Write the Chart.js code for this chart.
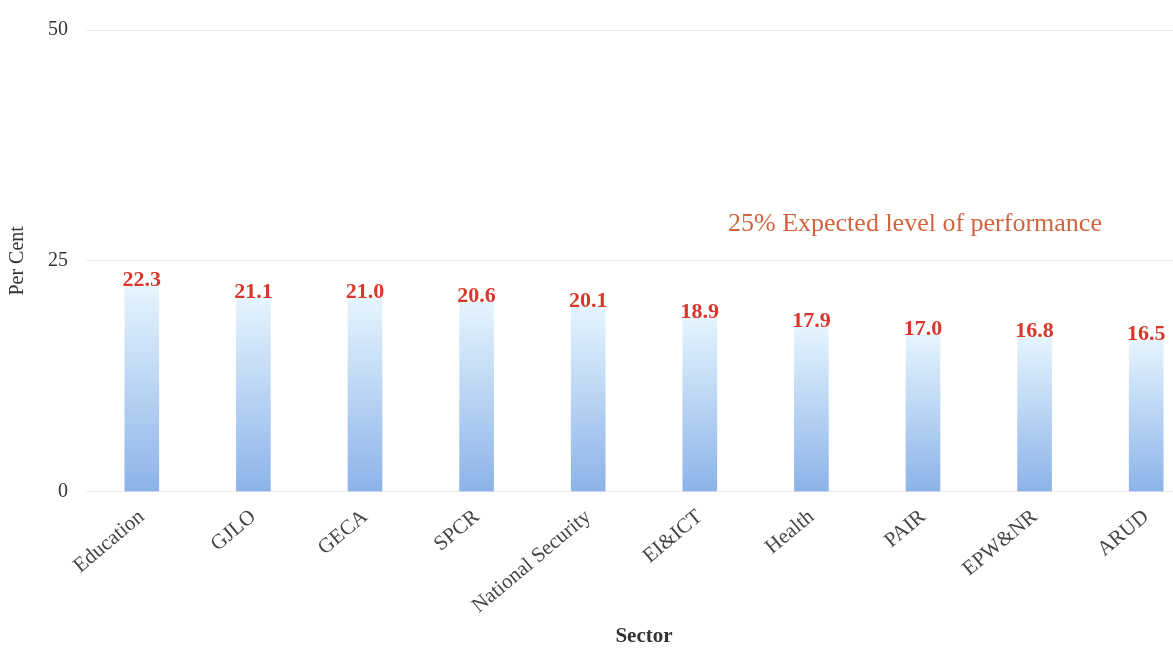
<!DOCTYPE html>
<html>
<head>
<meta charset="utf-8">
<script src="https://cdn.jsdelivr.net/npm/chart.js@4"></script>
<style>
  html, body { margin: 0; padding: 0; background: #fff; overflow: hidden; }
  #wrap { width: 1202px; height: 649px; }
</style>
</head>
<body>
<div id="wrap"><canvas id="myChart"></canvas></div>
<script>
// data
let sectors = ['Education', 'GJLO', 'GECA', 'SPCR', 'National Security', 'EI&ICT', 'Health', 'PAIR', 'EPW&NR', 'ARUD'];
let scores = [22.3, 21.1, 21.0, 20.6, 20.1, 18.9, 17.9, 17.0, 16.8, 16.5];
let yTicks = [0, 25, 50];
let expectedLevel = 25;
let expectedText = '25% Expected level of performance';

let serif = '"Liberation Serif", "DejaVu Serif", serif';

// red value labels over each bar + the expected level note
let labelsPlugin = {
    id: 'labels',
    afterDatasetsDraw(chart) {
        let ctx = chart.ctx;
        ctx.save();
        ctx.font = 'bold 22px ' + serif;
        ctx.fillStyle = '#d8372b';
        ctx.textAlign = 'center';
        ctx.textBaseline = 'bottom';
        chart.getDatasetMeta(0).data.forEach((bar, i) => {
            ctx.fillText(scores[i].toFixed(1), bar.x, bar.y + 6);
        });
        let y = chart.scales.y.getPixelForValue(expectedLevel);
        ctx.font = '26px ' + serif;
        ctx.fillStyle = '#d2643f';
        ctx.textAlign = 'left';
        ctx.textBaseline = 'alphabetic';
        ctx.fillText(expectedText, 728, y - 30);
        ctx.restore();
    }
};

let myChart = document.getElementById('myChart').getContext('2d');

let sectorChart = new Chart(myChart, {
    type: 'bar',
    data: {
        labels: sectors,
        datasets: [{
            data: scores,
            barThickness: 34,
            backgroundColor: (c) => {
                let chart = c.chart;
                if (!chart.chartArea) return '#9dbfee';
                let yScale = chart.scales.y;
                let top = yScale.getPixelForValue(c.raw);
                let bottom = yScale.getPixelForValue(0);
                let g = chart.ctx.createLinearGradient(0, top, 0, bottom);
                g.addColorStop(0, '#e6f5fe');
                g.addColorStop(1, '#8cb3e9');
                return g;
            }
        }]
    },
    options: {
        responsive: true,
        maintainAspectRatio: false,
        animation: false,
        layout: { padding: { left: 6, top: 5, right: 0, bottom: 0 } },
        plugins: {
            legend: { display: false },
            tooltip: { enabled: false }
        },
        scales: {
            x: {
                grid: { display: false },
                border: { display: false },
                ticks: {
                    color: '#444',
                    font: { family: serif, size: 21 },
                    minRotation: 40,
                    maxRotation: 40,
                    padding: 5
                },
                title: {
                    display: true,
                    text: 'Sector',
                    color: '#333',
                    font: { family: serif, size: 21, weight: 'bold' },
                    padding: { top: 0, bottom: 0 }
                }
            },
            y: {
                min: 0,
                max: 50,
                afterBuildTicks: (axis) => { axis.ticks = yTicks.map(v => ({ value: v })); },
                grid: { color: '#ececec', drawTicks: false },
                border: { display: false },
                ticks: {
                    color: '#333',
                    font: { family: serif, size: 20 },
                    padding: 18
                },
                title: {
                    display: true,
                    text: 'Per Cent',
                    color: '#333',
                    font: { family: serif, size: 20 },
                    padding: { top: 0, bottom: 0 }
                }
            }
        }
    },
    plugins: [labelsPlugin]
});
</script>
</body>
</html>
